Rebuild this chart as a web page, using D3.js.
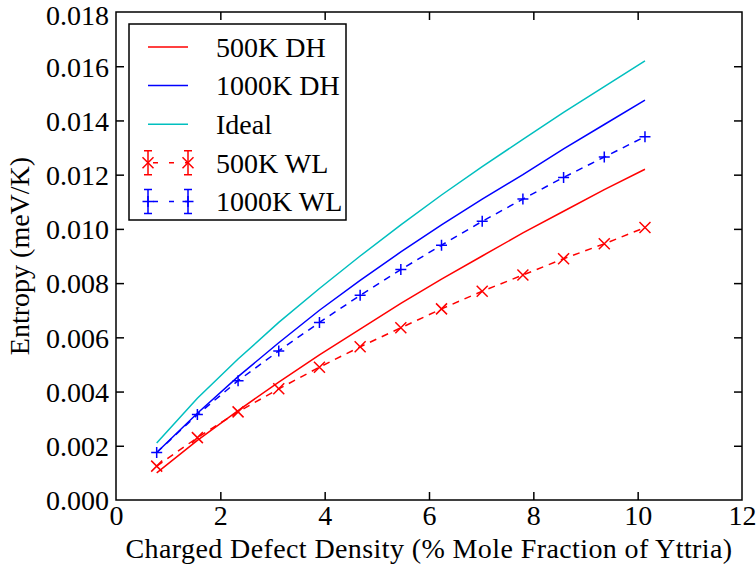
<!DOCTYPE html>
<html>
<head>
<meta charset="utf-8">
<script src="https://cdn.jsdelivr.net/npm/d3@7"></script>
<style>
  body { margin: 0; background: #fff; }
</style>
</head>
<body>
<svg id="chart" width="756" height="569"></svg>
<script>
// defect density (% mole fraction of yttria)
var density = [0.78, 1.56, 2.34, 3.12, 3.90, 4.68, 5.46, 6.24, 7.02, 7.80, 8.58, 9.36, 10.14];

var dh500  = [0.00100, 0.00220, 0.00330, 0.00435, 0.00535, 0.00630, 0.00725, 0.00815, 0.00900, 0.00985, 0.01065, 0.01145, 0.01220];
var dh1000 = [0.00175, 0.00320, 0.00455, 0.00580, 0.00700, 0.00810, 0.00915, 0.01015, 0.01110, 0.01200, 0.01295, 0.01385, 0.01475];
var ideal  = [0.00210, 0.00375, 0.00520, 0.00655, 0.00780, 0.00900, 0.01015, 0.01125, 0.01230, 0.01330, 0.01430, 0.01525, 0.01620];
var wl500  = [0.00125, 0.00230, 0.00325, 0.00410, 0.00490, 0.00565, 0.00635, 0.00705, 0.00770, 0.00830, 0.00890, 0.00945, 0.01005];
var wl1000 = [0.00175, 0.00315, 0.00440, 0.00550, 0.00655, 0.00755, 0.00850, 0.00940, 0.01028, 0.01110, 0.01190, 0.01265, 0.01340];

var xTicks = [0, 2, 4, 6, 8, 10, 12];
var yTicks = [0, 0.002, 0.004, 0.006, 0.008, 0.010, 0.012, 0.014, 0.016, 0.018];

var FONT = "'Liberation Serif', 'Times New Roman', Times, serif";

var svg = d3.select("#chart");
var margin = {left: 116, top: 12, right: 14, bottom: 69};
var width = 756 - margin.left - margin.right,
    height = 569 - margin.top - margin.bottom;

var x = d3.scaleLinear().domain([0, 12]).range([0, width]);
var y = d3.scaleLinear().domain([0, 0.018]).range([height, 0]);

var g = svg.append("g")
  .attr("transform", "translate(" + margin.left + "," + margin.top + ")");

g.append("clipPath").attr("id", "plotclip")
  .append("rect").attr("width", width).attr("height", height);

var line = d3.line()
  .x(function(d) { return x(d[0]); })
  .y(function(d) { return y(d[1]); });

function pairs(vals) {
  return density.map(function(d, i) { return [d, vals[i]]; });
}

var plot = g.append("g").attr("clip-path", "url(#plotclip)");

var series = [
  {name: "500K DH",  vals: dh500,  color: "#ff0000", dash: null, marker: null},
  {name: "1000K DH", vals: dh1000, color: "#0000ff", dash: null, marker: null},
  {name: "Ideal",    vals: ideal,  color: "#00bfbf", dash: null, marker: null},
  {name: "500K WL",  vals: wl500,  color: "#ff0000", dash: "7,6", marker: "x"},
  {name: "1000K WL", vals: wl1000, color: "#0000ff", dash: "7,6", marker: "+"}
];

function drawMarker(sel, type, cx, cy, color, s) {
  var d;
  if (type === "x") {
    d = "M" + (cx - s) + "," + (cy - s) + "L" + (cx + s) + "," + (cy + s) +
        "M" + (cx - s) + "," + (cy + s) + "L" + (cx + s) + "," + (cy - s);
  } else {
    d = "M" + (cx - s) + "," + cy + "L" + (cx + s) + "," + cy +
        "M" + cx + "," + (cy - s) + "L" + cx + "," + (cy + s);
  }
  sel.append("path").attr("d", d)
    .attr("stroke", color).attr("stroke-width", 1.5).attr("fill", "none");
}

function styleText(sel, size) {
  sel.style("font-family", FONT).style("font-size", size + "px").style("fill", "#000");
}

series.forEach(function(s) {
  plot.append("path")
    .datum(pairs(s.vals))
    .attr("d", line)
    .attr("fill", "none")
    .attr("stroke", s.color)
    .attr("stroke-width", 1.5)
    .attr("stroke-dasharray", s.dash);
  if (s.marker) {
    pairs(s.vals).forEach(function(p) {
      drawMarker(plot, s.marker, x(p[0]), y(p[1]), s.color, 5.5);
    });
  }
});

// frame
g.append("rect")
  .attr("width", width).attr("height", height)
  .attr("fill", "none").attr("stroke", "#000").attr("stroke-width", 1.5);

// axes with inward ticks
var tickLen = 8;
var xAxis = g.append("g").attr("transform", "translate(0," + height + ")")
  .call(d3.axisBottom(x).tickValues(xTicks).tickSize(-tickLen).tickPadding(5)
        .tickFormat(d3.format("d")));
var xTop = g.append("g")
  .call(d3.axisTop(x).tickValues(xTicks.slice(1, -1)).tickSize(-tickLen).tickFormat(""));
var yAxis = g.append("g")
  .call(d3.axisLeft(y).tickValues(yTicks).tickSize(-tickLen).tickPadding(7)
        .tickFormat(d3.format(".3f")));
var yRight = g.append("g").attr("transform", "translate(" + width + ",0)")
  .call(d3.axisRight(y).tickValues(yTicks.slice(1, -1)).tickSize(-tickLen).tickFormat(""));

[xAxis, xTop, yAxis, yRight].forEach(function(a) {
  a.attr("font-family", null).attr("font-size", null);
  a.select(".domain").remove();
  a.selectAll(".tick line").attr("stroke", "#000").attr("stroke-width", 1.5);
  styleText(a.selectAll("text"), 28);
});
xAxis.selectAll(".tick line").filter(function(d) { return d === 0 || d === 12; }).remove();
yAxis.selectAll(".tick line").filter(function(d) { return d === 0 || d === 0.018; }).remove();
xAxis.selectAll("text").attr("dy", "0.71em");
yAxis.selectAll("text").attr("dy", function(d) { return d === 0.018 ? "0.45em" : "0.35em"; });

// axis titles
svg.append("text")
  .attr("x", 429)
  .attr("y", 558)
  .attr("text-anchor", "middle")
  .call(styleText, 28)
  .style("letter-spacing", "0.4px")
  .text("Charged Defect Density (% Mole Fraction of Yttria)");

svg.append("text")
  .attr("transform", "translate(29," + (margin.top + height / 2) + ") rotate(-90)")
  .attr("text-anchor", "middle")
  .call(styleText, 28)
  .text("Entropy (meV/K)");

// legend
var legend = svg.append("g").attr("transform", "translate(129,24)");
legend.append("rect")
  .attr("width", 217).attr("height", 196)
  .attr("fill", "#fff").attr("stroke", "#000").attr("stroke-width", 1.5);

series.forEach(function(s, i) {
  var ly = 23 + i * 38.6;
  var row = legend.append("g");
  if (s.marker) {
    row.append("line")
      .attr("x1", 19).attr("x2", 59).attr("y1", ly).attr("y2", ly)
      .attr("stroke", s.color).attr("stroke-width", 1.5)
      .attr("stroke-dasharray", "5,11").attr("stroke-dashoffset", -5);
    [19, 59].forEach(function(cx) {
      row.append("path")
        .attr("d", "M" + cx + "," + (ly - 12) + "L" + cx + "," + (ly + 12) +
                   "M" + (cx - 4) + "," + (ly - 12) + "L" + (cx + 4) + "," + (ly - 12) +
                   "M" + (cx - 4) + "," + (ly + 12) + "L" + (cx + 4) + "," + (ly + 12))
        .attr("stroke", s.color).attr("stroke-width", 1.5).attr("fill", "none");
      drawMarker(row, s.marker, cx, ly, s.color, 5.5);
    });
  } else {
    row.append("line")
      .attr("x1", 19).attr("x2", 59).attr("y1", ly).attr("y2", ly)
      .attr("stroke", s.color).attr("stroke-width", 1.5);
  }
  row.append("text")
    .attr("x", 87).attr("y", ly).attr("dy", "0.35em")
    .call(styleText, 28)
    .text(s.name);
});
</script>
</body>
</html>
